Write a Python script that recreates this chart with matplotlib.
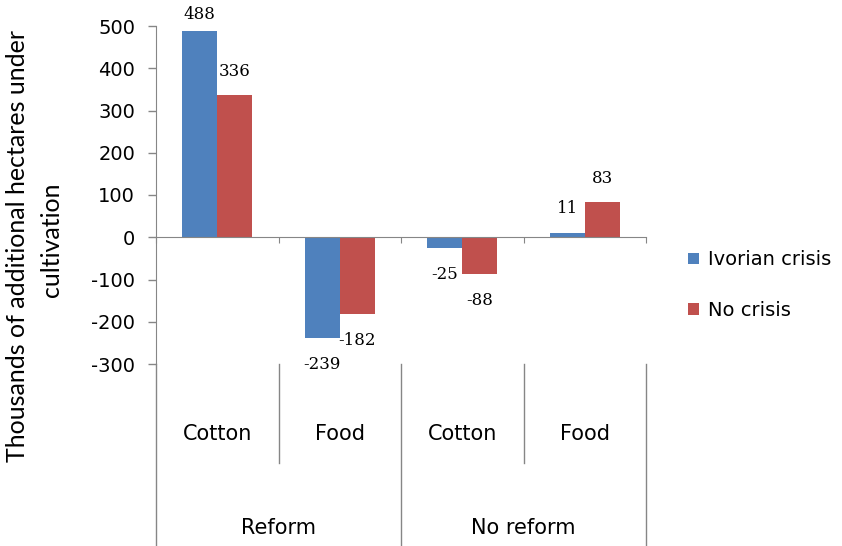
import numpy as np
import matplotlib.pyplot as plt
from matplotlib.transforms import blended_transform_factory

# values
groups = ['Reform', 'No reform']
crops = ['Cotton', 'Food', 'Cotton', 'Food']
ivorian_crisis = [488, -239, -25, 11]
no_crisis = [336, -182, -88, 83]
series_names = ['Ivorian crisis', 'No crisis']
y_ticks = [500, 400, 300, 200, 100, 0, -100, -200, -300]
y_title = ['Thousands of additional hectares under', 'cultivation']

blue = '#4F81BD'
red = '#C0504D'
grey = '#868686'

plt.rcParams['font.family'] = 'DejaVu Sans'
plt.rcParams['axes.unicode_minus'] = False

fig = plt.figure(figsize=(8.42, 5.46), dpi=100)
ax = fig.add_axes([156/842, 182/546, 490/842, 338/546])

x = np.arange(len(crops))
w = 0.287
b1 = ax.bar(x - w/2, ivorian_crisis, w, color=blue, label=series_names[0])
b2 = ax.bar(x + w/2, no_crisis, w, color=red, label=series_names[1])

ax.set_xlim(-0.5, len(crops) - 0.5)
ax.set_ylim(-300, 500)
ax.set_yticks(y_ticks)
ax.tick_params(axis='y', direction='out', length=6, width=1, color=grey,
               pad=9, labelsize=14)

for s in ['top', 'right']:
    ax.spines[s].set_visible(False)
ax.spines['left'].set_color(grey)
ax.spines['bottom'].set_position(('data', 0))
ax.spines['bottom'].set_color(grey)

# category boundary ticks on the zero line, no labels there
ax.set_xticks(np.arange(-0.5, len(crops), 1.0))
ax.set_xticklabels([])
ax.tick_params(axis='x', direction='out', length=4, color=grey)

# data labels
def label_bars(vals, offs):
    for xi, v in zip(x + offs, vals):
        if v >= 0:
            ly = min(v + 57, 528)
        else:
            ly = v - 62
        ax.text(xi, ly, str(v), ha='center', va='center',
                family='DejaVu Serif', fontsize=12, color='black')

label_bars(ivorian_crisis, -w/2)
label_bars(no_crisis, w/2)

# multi-level category axis below the plot
tr = blended_transform_factory(ax.transData, fig.transFigure)
y_axis_bottom = 182/546
for i, bx in enumerate(np.arange(-0.5, len(crops), 1.0)):
    if i % 2 == 0:
        y_end = 0.0
    else:
        y_end = 83/546
    ax.plot([bx, bx], [y_axis_bottom, y_end], color=grey, lw=1,
            transform=tr, clip_on=False)

for xi, c in zip(x, crops):
    fig.text(xi, 106/546, c, transform=tr, ha='center', va='baseline',
             fontsize=15)
for gi, g in enumerate(groups):
    fig.text(gi*2 + 0.5, 12/546, g, transform=tr, ha='center', va='baseline',
             fontsize=15)

# two-line rotated axis title
fig.text(18/842, 300/546, y_title[0], rotation=90, ha='center', va='center',
         family='Lato', fontsize=18)
fig.text(51/842, 306/546, y_title[1], rotation=90, ha='center', va='center',
         family='Lato', fontsize=18)

fig.legend(handles=[b1, b2], loc='center left',
           bbox_to_anchor=(688/842, 261/546), frameon=False, fontsize=14,
           handlelength=0.55, handleheight=0.55, handletextpad=0.5,
           labelspacing=1.6, borderpad=0, borderaxespad=0)

fig.savefig('out.png', dpi=100)
